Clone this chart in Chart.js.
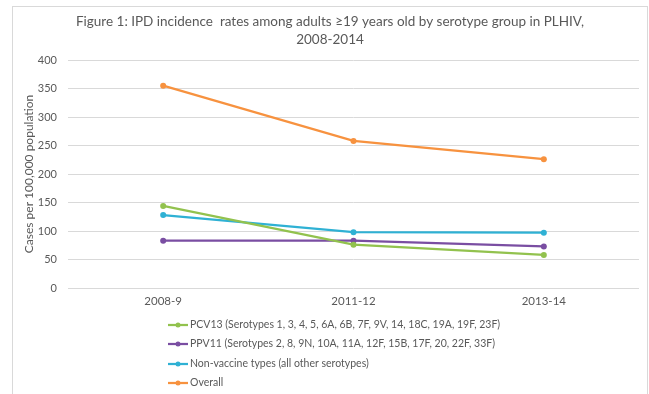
<!DOCTYPE html>
<html>
<head>
<meta charset="utf-8">
<script src="https://cdn.jsdelivr.net/npm/chart.js@4/dist/chart.umd.min.js"></script>
<style>
  html, body { margin: 0; padding: 0; background: #fff; }
  #wrap { position: relative; width: 649px; height: 394px; }
</style>
</head>
<body>
<div id="wrap"><canvas id="c" width="649" height="394"></canvas></div>
<script>
// Periods and IPD incidence per 100,000 PLHIV adults
const periods = ['2008-9', '2011-12', '2013-14'];
const pcv13 = [144, 76, 58];
const ppv11 = [83, 83, 73];
const nonVaccine = [128, 98, 97];
const overall = [355, 258, 226];

const seriesNames = [
  'PCV13 (Serotypes 1, 3, 4, 5, 6A, 6B, 7F, 9V, 14, 18C, 19A, 19F, 23F)',
  'PPV11 (Serotypes 2, 8, 9N, 10A, 11A, 12F, 15B, 17F, 20, 22F, 33F)',
  'Non-vaccine types (all other serotypes)',
  'Overall'
];
const seriesColors = ['#92c24e', '#7a4ea2', '#2fb1d4', '#f7923f'];
const titleLines = [
  'Figure 1: IPD incidence  rates among adults \u226519 years old by serotype group in PLHIV,',
  '2008-2014'
];
const yAxisTitle = 'Cases per 100,000 population';
const yTicks = [0, 50, 100, 150, 200, 250, 300, 350, 400];

const FONT = 'Lato, "Open Sans", sans-serif';
const GREY = '#595959';

function mk(i, data) {
  return {
    label: seriesNames[i],
    data: data,
    borderColor: seriesColors[i],
    backgroundColor: seriesColors[i],
    borderWidth: 2.25,
    pointRadius: 3,
    pointBorderWidth: 0,
    pointHoverRadius: 3,
    tension: 0
  };
}

// Outer frame, title, axis title and stacked legend
const decor = {
  id: 'decor',
  beforeDraw(chart) {
    const ctx = chart.ctx;
    ctx.save();
    ctx.strokeStyle = '#d9d9d9';
    ctx.lineWidth = 1;
    ctx.strokeRect(12.5, 6.5, 635, 400);
    ctx.restore();
  },
  afterDraw(chart) {
    const ctx = chart.ctx;
    const area = chart.chartArea;
    ctx.save();
    ctx.fillStyle = GREY;
    ctx.textAlign = 'center';
    ctx.textBaseline = 'middle';
    ctx.font = '13.5px ' + FONT;
    ctx.fillText(titleLines[0], 330, 22);
    ctx.fillText(titleLines[1], 330, 40);

    // vertical axis title
    ctx.save();
    ctx.translate(29, (area.top + area.bottom) / 2);
    ctx.rotate(-Math.PI / 2);
    ctx.font = '12px ' + FONT;
    ctx.fillText(yAxisTitle, 0, 0);
    ctx.restore();

    // legend rows
    const rows = [325, 344, 364, 383];
    ctx.font = '10.5px ' + FONT;
    ctx.textAlign = 'left';
    chart.data.datasets.forEach((ds, i) => {
      const y = rows[i];
      ctx.strokeStyle = ds.borderColor;
      ctx.lineWidth = 2.25;
      ctx.beginPath();
      ctx.moveTo(168, y);
      ctx.lineTo(188, y);
      ctx.stroke();
      ctx.fillStyle = ds.borderColor;
      ctx.beginPath();
      ctx.arc(178, y, 2.5, 0, Math.PI * 2);
      ctx.fill();
      ctx.fillStyle = GREY;
      ctx.fillText(ds.label, 190, y);
    });
    ctx.restore();
  }
};

new Chart(document.getElementById('c'), {
  type: 'line',
  data: {
    labels: periods,
    datasets: [mk(0, pcv13), mk(1, ppv11), mk(2, nonVaccine), mk(3, overall)]
  },
  options: {
    responsive: false,
    animation: false,
    events: [],
    layout: { padding: { top: 60, right: 10, bottom: 0, left: 0 } },
    plugins: {
      legend: { display: false },
      title: { display: false },
      tooltip: { enabled: false }
    },
    scales: {
      x: {
        offset: true,
        grid: { display: false, drawTicks: false },
        border: { display: false },
        ticks: { color: GREY, font: { family: FONT, size: 11.5 }, padding: 6, maxRotation: 0 },
        afterFit(scale) { scale.height = 106; }
      },
      y: {
        min: 0,
        max: 400,
        afterBuildTicks(scale) { scale.ticks = yTicks.map(v => ({ value: v })); },
        grid: { color: '#d9d9d9', lineWidth: 1, drawTicks: false },
        border: { display: false },
        ticks: { color: GREY, font: { family: FONT, size: 11 }, padding: 11 },
        afterFit(scale) { scale.width = 68; }
      }
    }
  },
  plugins: [decor]
});
</script>
</body>
</html>
